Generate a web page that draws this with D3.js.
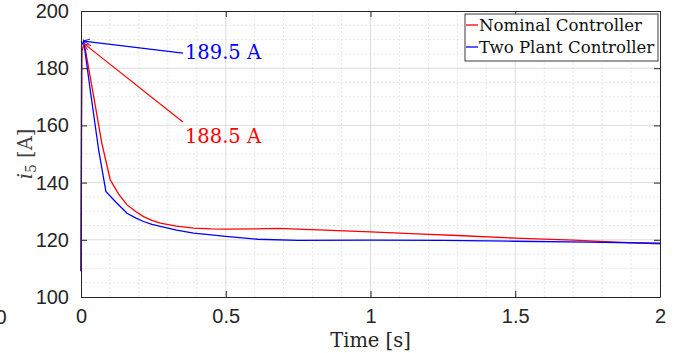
<!DOCTYPE html>
<html>
<head>
<meta charset="UTF-8" />
<script src="https://cdn.jsdelivr.net/npm/d3@7"></script>
<style>
  body { margin: 0; background: #fff; }
  svg { display: block; }
</style>
</head>
<body>
<script>
    // current i5 after a step, two controllers
    const nomTime = [0, 0.003, 0.0115, 0.044, 0.072, 0.101, 0.13, 0.159, 0.19, 0.216, 0.245, 0.274, 0.33, 0.389, 0.45, 0.5, 0.6, 0.68, 0.82, 1.0, 1.16, 1.3, 1.5, 1.7, 1.85, 2.0];
    const nomCurrent = [109, 186, 188.5, 170, 153.7, 141, 136, 132.2, 129.8, 128.1, 126.8, 125.8, 124.8, 124.1, 123.8, 123.7, 123.8, 124, 123.5, 122.8, 122.1, 121.5, 120.6, 119.9, 119.2, 118.6];

    const twoTime = [0, 0.002, 0.009, 0.032, 0.061, 0.086, 0.12, 0.159, 0.19, 0.216, 0.245, 0.274, 0.33, 0.389, 0.45, 0.5, 0.61, 0.75, 1.0, 1.25, 1.5, 1.75, 2.0];
    const twoCurrent = [109, 188, 189.5, 172.3, 151.4, 136.9, 133.2, 129.3, 127.6, 126.4, 125.4, 124.7, 123.4, 122.3, 121.7, 121.2, 120.2, 119.8, 119.9, 119.8, 119.5, 119.2, 118.8];

    const seriesNames = ["Nominal Controller", "Two Plant Controller"];
    const seriesColors = ["#ff0000", "#0000ff"];

    const xTicks = [0, 0.5, 1, 1.5, 2];
    const yTicks = [100, 120, 140, 160, 180, 200];

    // peak annotations: [label, peak t, peak i, tail t, tail i, text t, text i]
    const notes = [
        ["189.5 A", 0.009, 189.5, 0.352, 185.3, 0.359, 183.2],
        ["188.5 A", 0.0115, 188.5, 0.352, 161.2, 0.359, 153.8]
    ];

    const w = 681, h = 353;
    const m = { left: 81, right: 21, top: 11, bottom: 56 };

    const svg = d3.select("body").append("svg")
        .attr("width", w)
        .attr("height", h);

    const x = d3.scaleLinear().domain([0, 2]).range([m.left, w - m.right]);
    const y = d3.scaleLinear().domain([100, 200]).range([h - m.bottom, m.top]);

    const sans = "'Liberation Sans', Arial, sans-serif";
    const serif = "'DejaVu Serif', serif";
    const dark = "#262626";

    // grid
    const grid = svg.append("g");
    grid.selectAll(".mx").data(d3.range(0.1, 2, 0.1).filter(v => Math.abs(v * 2 - Math.round(v * 2)) > 1e-6))
        .enter().append("line")
        .attr("x1", d => x(d)).attr("x2", d => x(d))
        .attr("y1", y(100)).attr("y2", y(200))
        .attr("stroke", "#e6e6e6").attr("stroke-dasharray", "2,2");
    grid.selectAll(".my").data(d3.range(105, 200, 5).filter(v => v % 20 !== 0))
        .enter().append("line")
        .attr("x1", x(0)).attr("x2", x(2))
        .attr("y1", d => y(d)).attr("y2", d => y(d))
        .attr("stroke", "#e6e6e6").attr("stroke-dasharray", "2,2");
    grid.selectAll(".gx").data(xTicks.slice(1, -1))
        .enter().append("line")
        .attr("x1", d => x(d)).attr("x2", d => x(d))
        .attr("y1", y(100)).attr("y2", y(200))
        .attr("stroke", "#dcdcdc");
    grid.selectAll(".gy").data(yTicks.slice(1, -1))
        .enter().append("line")
        .attr("x1", x(0)).attr("x2", x(2))
        .attr("y1", d => y(d)).attr("y2", d => y(d))
        .attr("stroke", "#dcdcdc");

    // curves
    const line = d3.line().x(d => x(d[0])).y(d => y(d[1]));
    const data = [
        d3.zip(nomTime, nomCurrent),
        d3.zip(twoTime, twoCurrent)
    ];
    svg.selectAll(".curve").data(data).enter().append("path")
        .attr("d", line)
        .attr("fill", "none")
        .attr("stroke", (d, i) => seriesColors[i])
        .attr("stroke-width", 1.3);

    // axes (ticks inside, box)
    const tk = 6;
    const axB = d3.axisBottom(x).tickValues(xTicks).tickSizeInner(-tk).tickSizeOuter(0).tickPadding(12).tickFormat(d3.format("~g"));
    const axL = d3.axisLeft(y).tickValues(yTicks).tickSizeInner(-tk).tickSizeOuter(0).tickPadding(12);
    const axT = d3.axisTop(x).tickValues(xTicks).tickSizeInner(-tk).tickSizeOuter(0).tickFormat("");
    const axR = d3.axisRight(y).tickValues(yTicks).tickSizeInner(-tk).tickSizeOuter(0).tickFormat("");

    [[axB, `translate(0,${y(100)})`], [axL, `translate(${x(0)},0)`],
     [axT, `translate(0,${y(200)})`], [axR, `translate(${x(2)},0)`]].forEach(([ax, tr]) => {
        const g = svg.append("g").attr("transform", tr).call(ax);
        g.select(".domain").attr("stroke", dark);
        g.selectAll(".tick line").attr("stroke", dark);
        g.selectAll("text").attr("fill", dark).style("font-family", sans).style("font-size", "20px");
    });

    // cut-off label of a neighbouring plot
    svg.append("text").attr("x", 1).attr("y", 324).attr("text-anchor", "middle")
        .attr("fill", dark).style("font-family", sans).style("font-size", "20px").text("0");

    // axis labels
    svg.append("text")
        .attr("x", (x(0) + x(2)) / 2).attr("y", 347)
        .attr("text-anchor", "middle")
        .attr("fill", dark).style("font-family", serif).style("font-size", "19.5px")
        .text("Time [s]");

    const yl = svg.append("text")
        .attr("transform", `translate(32,${(y(100) + y(200)) / 2}) rotate(-90)`)
        .attr("text-anchor", "middle")
        .attr("fill", "#404040").style("font-family", serif).style("font-size", "19.5px");
    yl.append("tspan").style("font-style", "italic").text("i");
    yl.append("tspan").attr("dy", 4).style("font-size", "14px").text("5");
    yl.append("tspan").attr("dy", -4).text(" [A]");

    // annotations
    const defs = svg.append("defs");
    seriesColors.forEach((c, i) => {
        defs.append("marker").attr("id", "ah" + i)
            .attr("viewBox", "0 0 10 10").attr("refX", 9).attr("refY", 5)
            .attr("markerWidth", 7).attr("markerHeight", 7).attr("markerUnits", "userSpaceOnUse")
            .attr("orient", "auto")
            .append("path").attr("d", "M0,1 L9,5 L0,9").attr("fill", "none").attr("stroke", c).attr("stroke-width", 1.2);
    });
    const noteColors = [seriesColors[1], seriesColors[0]];
    const markIds = ["ah1", "ah0"];
    notes.forEach((n, i) => {
        svg.append("line")
            .attr("x1", x(n[3])).attr("y1", y(n[4]))
            .attr("x2", x(n[1])).attr("y2", y(n[2]))
            .attr("stroke", noteColors[i]).attr("stroke-width", 1.2)
            .attr("marker-end", `url(#${markIds[i]})`);
        svg.append("text")
            .attr("x", x(n[5])).attr("y", y(n[6]))
            .attr("fill", noteColors[i])
            .style("font-family", serif).style("font-size", "19.5px")
            .text(n[0]);
    });

    // legend
    const lg = svg.append("g").attr("transform", "translate(465,14)");
    lg.append("rect").attr("width", 193).attr("height", 47)
        .attr("fill", "#fff").attr("stroke", "#3a3a3a").attr("stroke-width", 1);
    seriesNames.forEach((s, i) => {
        const yy = 11 + i * 22;
        lg.append("line").attr("x1", 1).attr("x2", 13).attr("y1", yy).attr("y2", yy)
            .attr("stroke", seriesColors[i]).attr("stroke-width", 1.3);
        lg.append("text").attr("x", 14).attr("y", yy + 5.5)
            .attr("fill", "#111").style("font-family", serif).style("font-size", "16.6px")
            .text(s);
    });
</script>
</body>
</html>
